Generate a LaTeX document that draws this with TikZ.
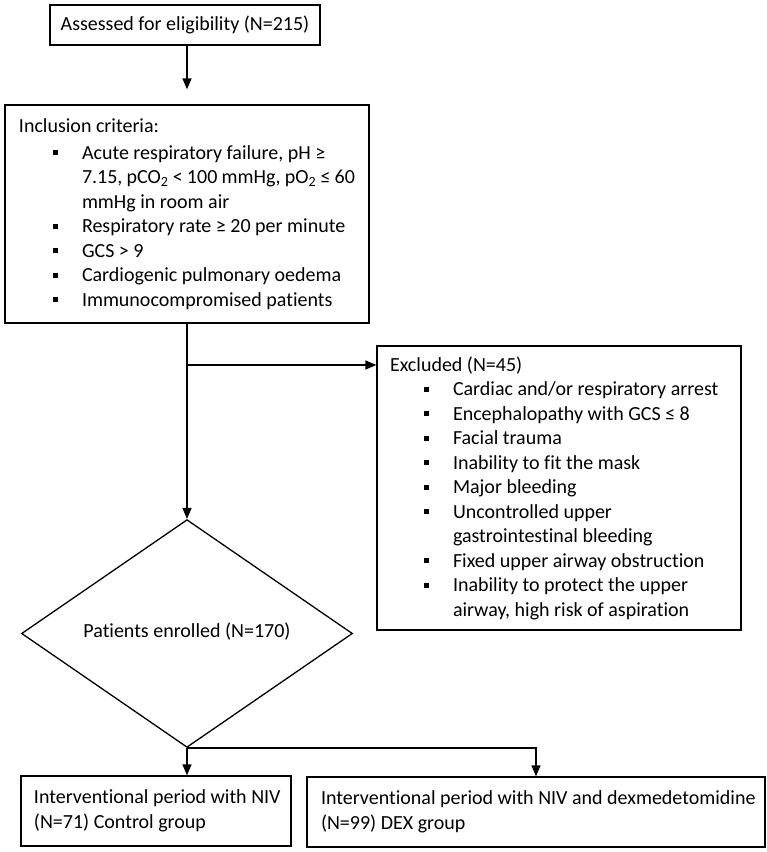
\documentclass[tikz,border=0pt]{standalone}
\usepackage{fontspec}
\setmainfont{Carlito}[Ligatures=NoCommon]
\usetikzlibrary{arrows.meta,shapes.geometric}
\newcommand\bitem{\par\noindent\llap{\raisebox{4pt}{\rule{5pt}{5pt}}\hspace{24pt}}}
\newcommand\boxtext[2]{\parbox{#1}{\raggedright\hyphenpenalty=10000\relax #2\par}}
\tikzset{
  boxnode/.style={draw, line width=1.3pt, rectangle, inner ysep=0pt,
    font=\fontsize{20}{24.5}\selectfont},
  arr/.style={line width=1.3pt, -{Triangle[width=9pt,length=11pt]}},
  ln/.style={line width=1.3pt}
}
\begin{document}
\begin{tikzpicture}[x=1pt,y=-1pt]
\useasboundingbox (0,0) rectangle (767,852);
\node[boxnode, minimum width=270pt, minimum height=40pt] (top) at (185,25)
  {Assessed for eligibility (N=215)};
\node[boxnode, minimum height=218pt, inner xsep=14pt] (incl) at (187,214)
  {\boxtext{336pt}{Inclusion criteria:\par\vspace{2pt}\leftskip=63pt
   \bitem Acute respiratory failure, pH ≥\newline 7.15, pCO\textsubscript{2} < 100 mmHg, pO\textsubscript{2} ≤ 60\newline mmHg in room air
   \bitem Respiratory rate ≥ 20 per minute
   \bitem GCS > 9
   \bitem Cardiogenic pulmonary oedema
   \bitem Immunocompromised patients}};
\node[boxnode, minimum height=284pt, inner xsep=13pt] (excl) at (559,488)
  {\boxtext{338pt}{Excluded (N=45)\par\leftskip=63pt
   \bitem Cardiac and/or respiratory arrest
   \bitem Encephalopathy with GCS ≤ 8
   \bitem Facial trauma
   \bitem Inability to fit the mask
   \bitem Major bleeding
   \bitem Uncontrolled upper\newline gastrointestinal bleeding
   \bitem Fixed upper airway obstruction
   \bitem Inability to protect the upper\newline airway, high risk of aspiration}};
\node[draw, diamond, line width=1.3pt, minimum width=331pt, minimum height=197pt, inner sep=0pt,
  font=\fontsize{20}{24.5}\selectfont] (dia) at (187,633.5) {\raisebox{6pt}{Patients enrolled (N=170)}};
\node[boxnode, minimum height=70pt, inner xsep=13pt] (ctrl) at (156,811)
  {\boxtext{244pt}{\hbox to 244pt{Interventional period with NIV\hss}\hbox to 244pt{(N=71) Control group\hss}}};
\node[boxnode, minimum height=70pt, inner xsep=14pt] (dex) at (536,812)
  {\boxtext{430pt}{\hbox to 430pt{Interventional period with NIV and dexmedetomidine\hss}\hbox to 430pt{(N=99) DEX group\hss}}};
\coordinate (br) at (187,365);
\draw[arr, shorten >=15pt] (top.south -| incl.north) -- (incl.north);
\draw[arr] (incl.south) -- (dia.north);
\draw[arr] (br) -- (br -| excl.west);
\draw[arr] (dia.south) -- (dia.south |- ctrl.north);
\draw[arr] (dia.south) -| (dex.north);
\end{tikzpicture}
\end{document}
